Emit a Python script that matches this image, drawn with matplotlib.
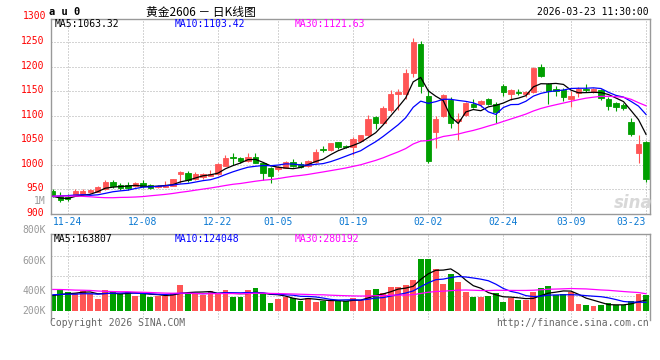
import numpy as np
import pandas as pd
import matplotlib
matplotlib.use('Agg')
import matplotlib.pyplot as plt
from matplotlib.transforms import ScaledTranslation

# au0 daily bars, 2025-11-20 .. 2026-03-23 (80 sessions)
opens = [946.5, 936.9, 934.9, 936.9, 941.0, 945.1, 945.1, 950.0, 964.9, 958.2,
         958.8, 956.7, 963.5, 958.8, 954.7, 954.7, 957.3, 981.2, 983.9, 971.0,
         974.5, 977.8, 980.6, 998.2, 1015.3, 1013.9, 1007.1, 1015.3, 1004.3, 993.5,
         990.8, 994.1, 1005.1, 1001.0, 998.2, 1005.1, 1032.9, 1030.2, 1045.9, 1039.0,
         1035.7, 1048.6, 1060.8, 1096.9, 1085.9, 1111.2, 1144.5, 1145.1, 1188.0, 1246.5,
         1140.4, 1067.6, 1099.6, 1132.2, 1088.8, 1101.6, 1124.1, 1124.1, 1134.3, 1124.1,
         1160.8, 1143.9, 1149.2, 1143.9, 1148.6, 1200.2, 1164.9, 1154.7, 1152.0, 1134.3,
         1145.9, 1155.3, 1149.2, 1152.7, 1134.3, 1126.1, 1122.0, 1088.0, 1023.5, 1045.9]
highs = [950.0, 944.5, 940.4, 950.6, 950.6, 950.6, 956.7, 969.0, 969.0, 962.9,
         965.5, 964.9, 969.0, 960.2, 959.4, 966.9, 971.6, 987.3, 987.3, 984.7,
         983.3, 989.4, 1003.0, 1020.6, 1023.5, 1016.0, 1023.5, 1023.5, 1006.3, 996.1,
         997.6, 1008.5, 1011.2, 1006.0, 1009.2, 1031.6, 1038.4, 1044.5, 1047.1, 1041.0,
         1056.1, 1061.4, 1101.6, 1099.6, 1120.0, 1152.0, 1154.0, 1196.1, 1258.8, 1253.3,
         1154.0, 1099.6, 1144.5, 1139.0, 1105.1, 1127.6, 1134.3, 1132.2, 1135.7, 1128.8,
         1164.3, 1154.0, 1154.7, 1150.6, 1199.0, 1206.5, 1167.6, 1160.8, 1156.1, 1151.2,
         1158.8, 1164.9, 1157.3, 1155.0, 1139.0, 1128.8, 1125.5, 1095.5, 1060.8, 1048.0]
lows = [933.7, 924.7, 926.7, 935.7, 937.8, 943.1, 943.9, 948.6, 953.3, 948.6,
        948.0, 955.3, 952.0, 950.0, 953.3, 954.7, 957.3, 962.2, 965.5, 969.0,
        972.0, 977.0, 980.0, 997.5, 999.6, 1003.0, 1006.0, 1003.5, 969.0, 962.2,
        988.0, 993.0, 996.1, 993.0, 994.9, 1003.0, 1026.7, 1029.0, 1031.6, 1033.7,
        1020.0, 1048.0, 1058.8, 1073.0, 1083.3, 1108.4, 1111.8, 1133.7, 1179.8, 1147.0,
        1004.3, 1033.7, 1096.9, 1075.7, 1050.6, 1100.0, 1115.3, 1117.3, 1122.0, 1085.9,
        1140.4, 1132.2, 1142.4, 1139.0, 1147.1, 1179.8, 1123.5, 1141.0, 1130.8, 1118.6,
        1139.0, 1149.2, 1145.9, 1133.0, 1111.8, 1109.8, 1111.8, 1059.4, 1003.0, 965.5]
closes = [938.4, 928.2, 929.6, 946.5, 947.1, 948.0, 954.7, 964.9, 957.3, 953.3,
          952.7, 962.2, 956.7, 953.3, 957.3, 959.4, 971.0, 984.7, 969.0, 981.2,
          981.8, 981.2, 1001.6, 1013.9, 1013.3, 1008.4, 1015.3, 1004.3, 983.9, 977.8,
          994.9, 1005.8, 998.0, 996.1, 1007.8, 1026.1, 1029.6, 1043.9, 1036.3, 1035.7,
          1052.7, 1060.2, 1092.9, 1085.9, 1115.9, 1144.5, 1149.2, 1187.3, 1250.0, 1160.8,
          1008.4, 1093.5, 1142.4, 1084.7, 1092.9, 1125.5, 1118.6, 1130.2, 1124.1, 1108.4,
          1149.2, 1152.7, 1145.9, 1149.2, 1198.2, 1181.5, 1151.2, 1150.6, 1139.0, 1140.4,
          1154.0, 1152.7, 1154.0, 1135.7, 1120.6, 1118.6, 1116.5, 1062.9, 1042.4, 970.4]
# volume, thousand lots
volumes = [259, 342, 314, 285, 330, 276, 193, 342, 302, 276,
           314, 248, 292, 231, 243, 243, 292, 424, 292, 281,
           259, 325, 276, 342, 231, 231, 342, 380, 269, 132,
           198, 231, 203, 160, 215, 144, 160, 160, 160, 160,
           215, 177, 342, 358, 292, 396, 396, 424, 507, 858,
           858, 688, 441, 606, 474, 314, 231, 231, 248, 292,
           149, 203, 177, 177, 314, 375, 408, 259, 276, 302,
           111, 94, 83, 94, 120, 94, 94, 160, 269, 259]
# the 29 sessions before the window, only used for the moving averages
prior_close = [915, 935, 950, 960, 975, 990, 985, 960, 935, 945,
               945, 930, 905, 915, 915, 915, 915, 910, 910, 915,
               915, 925, 935, 940, 960, 945, 935, 925, 935]
prior_volume = [380, 430, 450, 400, 380, 470, 520, 400, 360, 310,
                420, 390, 350, 400, 380, 360, 340, 370, 390, 400,
                290, 260, 300, 250, 280, 260, 250, 240, 246]

tick_pos = [2, 12, 22, 30, 40, 50, 60, 69, 79]
tick_labels = ['11-24', '12-08', '12-22', '01-05', '01-19', '02-02', '02-24', '03-09', '03-23']

RED, GREEN = '#ff5555', '#009f00'
MA_COLORS = {5: 'black', 10: '#0000ff', 30: '#ff00ff'}
GRID = dict(color='#aaaaaa', lw=0.72, linestyle=(0, (1, 2)))

plt.rcParams['font.family'] = ['DejaVu Sans Mono']
W, H = 660, 360
fig = plt.figure(figsize=(6.6, 3.6), dpi=100)


def box(x0, y0, x1, y1):
    return [x0 / W, 1 - y1 / H, (x1 - x0) / W, (y1 - y0) / H]


def ftext(x, y, s, **kw):
    kw.setdefault('fontsize', 7)
    kw.setdefault('va', 'center')
    fig.text(x / W, 1 - y / H, s, **kw)


ax = fig.add_axes(box(51, 19, 650, 213.8))
vax = fig.add_axes(box(51, 234, 650, 320))

x = np.arange(len(closes))
o, h, l, c = map(np.array, (opens, highs, lows, closes))
col = np.where(c >= o, RED, GREEN)

# candles
ax.vlines(x, l, h, colors=col, lw=0.8, zorder=2)
ax.bar(x, np.abs(c - o), bottom=np.minimum(o, c), width=0.72,
       color=col, edgecolor=col, lw=0.6, zorder=2)

n = len(prior_close)
cs = pd.Series(prior_close + closes)
for w, mc in MA_COLORS.items():
    ax.plot(x, cs.rolling(w).mean().values[n:], color=mc, lw=0.9, zorder=3)

ax.set_xlim(-0.23, 79.53)
ax.set_ylim(900, 1297.6)
ax.set_yticks(range(900, 1300, 50))
ax.set_xticks(tick_pos, tick_labels)
ax.tick_params(axis='y', length=0, pad=5, labelsize=7, labelcolor='#ff0000')
ax.tick_params(axis='x', length=0, pad=2, labelsize=7, labelcolor='#0a78d2')
ax.get_xticklabels()[-1].set_ha('right')
up2 = ScaledTranslation(0, 2 / 100, fig.dpi_scale_trans)
for lab in ax.get_yticklabels():
    lab.set_transform(lab.get_transform() + up2)
ax.grid(True, **GRID)

# volume
vax.bar(x, volumes, width=0.78, color=col, lw=0)
vs = pd.Series(prior_volume + volumes)
for w, mc in MA_COLORS.items():
    vax.plot(x, vs.rolling(w).mean().values[n:], color=mc, lw=0.9)
vax.set_xlim(-0.23, 79.53)
vax.set_ylim(-153, 1266)
vax.set_xticks(tick_pos)
vax.set_yticks([242, 577, 907])
vax.tick_params(length=0, labelbottom=False, labelleft=False)
vax.grid(True, **GRID)
vax.spines['bottom'].set_visible(False)

for a in (ax, vax):
    a.set_axisbelow(True)
    for s in a.spines.values():
        s.set_color('#999999')
        s.set_linewidth(1)

# header and labels
ftext(49, 12, 'a u 0', fontsize=7.5, fontweight='bold')
ftext(201, 12, '黄金2606 － 日K线图', family=['Noto Sans CJK SC', 'DejaVu Sans'],
      fontsize=8.5, ha='center')
ftext(649, 12, '2026-03-23 11:30:00', ha='right')
ftext(55, 24, 'MA5:1063.32', color='black')
ftext(175, 24, 'MA10:1103.42', color='#0000ff')
ftext(295, 24, 'MA30:1121.63', color='#ff00ff')
ftext(46, 15.7, '1300', ha='right', color='#ff0000')
ftext(46, 200.7, '1M', ha='right', color='#999999')

ftext(54, 239, 'MA5:163807', color='black')
ftext(175, 239, 'MA10:124048', color='#0000ff')
ftext(295, 239, 'MA30:280192', color='#ff00ff')
for yy, s in [(230, '800K'), (260.7, '600K'), (291, '400K'), (311, '200K')]:
    ftext(46, yy, s, ha='right', color='#999999')

ftext(50, 323.3, 'Copyright 2026 SINA.COM', color='#666666')
ftext(649.3, 323.3, 'http://finance.sina.com.cn', ha='right', color='#666666')

# watermark
ftext(633, 203, 'sina', fontsize=12, fontweight='bold', style='italic',
      family=['DejaVu Sans'], color='#d8d8d8', ha='center')

fig.savefig('out.png', dpi=100)
